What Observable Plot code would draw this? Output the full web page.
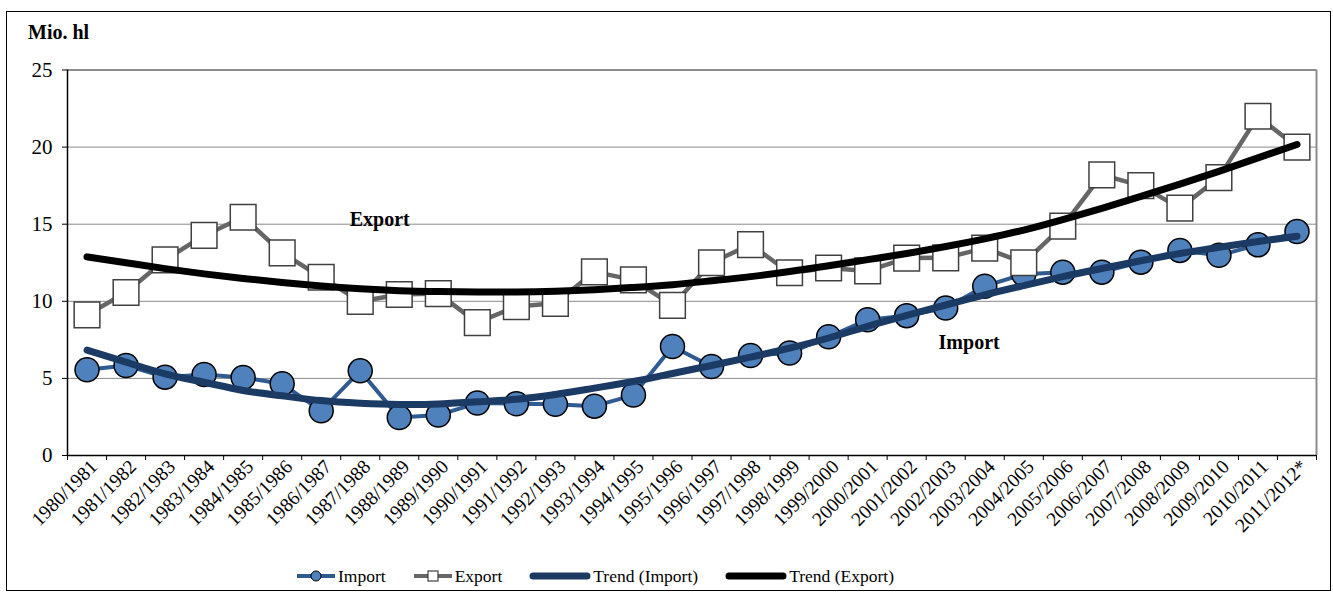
<!DOCTYPE html>
<html><head><meta charset="utf-8">
<script src="https://cdn.jsdelivr.net/npm/d3@7"></script>
<script src="https://cdn.jsdelivr.net/npm/@observablehq/plot@0.6"></script>
<style>
body{margin:0;background:#fff;font-family:"Liberation Serif","Times New Roman","DejaVu Serif",serif}
#wrap{position:relative;width:1333px;height:594px;overflow:hidden;background:#fff}
#frame{position:absolute;left:6px;top:11px;width:1325px;height:580px;border:1.5px solid #000;box-sizing:border-box;pointer-events:none}
#chart{position:absolute;left:0;top:0}
#unit{position:absolute;left:28px;top:21px;font-weight:bold;font-size:20px;font-family:"Liberation Serif","Times New Roman","DejaVu Serif",serif;color:#000}
#legend{position:absolute;left:296px;top:565px;height:22px;display:flex;align-items:center;gap:27px;font-size:17.5px;font-family:"Liberation Serif","Times New Roman","DejaVu Serif",serif;color:#000}
.item{display:flex;align-items:center;gap:2px;white-space:nowrap}
.item svg{display:block}
svg text{font-family:"Liberation Serif","Times New Roman","DejaVu Serif",serif}
</style></head><body>
<div id="wrap"><div id="chart"></div><div id="unit">Mio. hl</div><div id="legend"></div><div id="frame"></div></div>
<script>
const categories = ["1980/1981","1981/1982","1982/1983","1983/1984","1984/1985","1985/1986","1986/1987","1987/1988","1988/1989","1989/1990","1990/1991","1991/1992","1992/1993","1993/1994","1994/1995","1995/1996","1996/1997","1997/1998","1998/1999","1999/2000","2000/2001","2001/2002","2002/2003","2003/2004","2004/2005","2005/2006","2006/2007","2007/2008","2008/2009","2009/2010","2010/2011","2011/2012*"];
const importValues = [5.56,5.84,5.08,5.25,5.06,4.65,2.90,5.49,2.46,2.62,3.40,3.36,3.32,3.20,3.92,7.07,5.77,6.48,6.65,7.70,8.80,9.07,9.56,10.98,11.76,11.89,11.89,12.54,13.30,12.98,13.66,14.52];
const exportValues = [9.12,10.57,12.69,14.27,15.45,13.14,11.56,9.99,10.44,10.50,8.62,9.66,9.87,11.91,11.39,9.73,12.50,13.68,11.85,12.16,11.97,12.80,12.82,13.45,12.50,14.87,18.20,17.50,16.04,18.02,22.00,20.00];
const trendImport = [6.83,6.05,5.30,4.75,4.22,3.87,3.56,3.39,3.31,3.34,3.48,3.65,3.96,4.37,4.80,5.32,5.84,6.38,6.96,7.62,8.38,9.08,9.76,10.42,11.02,11.60,12.13,12.63,13.10,13.50,13.88,14.22];
const trendExport = [12.88,12.50,12.12,11.78,11.48,11.22,10.99,10.81,10.69,10.63,10.60,10.60,10.65,10.75,10.90,11.08,11.33,11.60,11.93,12.30,12.70,13.10,13.55,14.05,14.62,15.30,16.03,16.80,17.60,18.43,19.30,20.17];
const yTicks = [0,5,10,15,20,25];
const annotations = [{text:"Export", x:7.5, y:15.3},{text:"Import", x:22.6, y:7.3}];
const legendItems = ["Import","Export","Trend (Import)","Trend (Export)"];

const idx = categories.map((_, i) => i);
const rows = idx.map(i => ({i, imp: importValues[i], exp: exportValues[i], tImp: trendImport[i], tExp: trendExport[i]}));
const boundaries = d3.range(categories.length + 1).map(i => i - 0.5);
const serif = '"Liberation Serif", "Times New Roman", "DejaVu Serif", serif';

const plot = Plot.plot({
  width: 1333, height: 560,
  marginLeft: 67, marginRight: 17, marginTop: 69.5, marginBottom: 105,
  style: {fontFamily: serif, background: "transparent", color: "#000"},
  x: {type: "linear", domain: [-0.5, categories.length - 0.5]},
  y: {domain: [0, 25]},
  marks: [
    Plot.gridY(yTicks, {stroke: "#8a8a8a", strokeOpacity: 1, strokeWidth: 1}),
    Plot.ruleY([25], {stroke: "#8c8c8c", strokeWidth: 2}),
    Plot.ruleX([categories.length - 0.5], {stroke: "#8c8c8c", strokeWidth: 2}),
    Plot.axisY({ticks: yTicks, tickSize: 5, tickPadding: 10, fontSize: 21, fontFamily: serif, label: null}),
    Plot.axisX({ticks: boundaries, tickSize: 5, tickFormat: () => "", label: null}),
    Plot.axisX({ticks: idx, tickSize: 0, tickPadding: 8, dx: 7, tickFormat: i => categories[i], tickRotate: -45, fontSize: 19.5, fontFamily: serif, label: null}),
    Plot.ruleX([-0.5], {stroke: "#000", strokeWidth: 1.5}),
    Plot.ruleY([0], {stroke: "#000", strokeWidth: 1.5}),
    Plot.line(rows, {x: "i", y: "imp", stroke: "#2d5b92", strokeWidth: 4}),
    Plot.dot(rows, {x: "i", y: "imp", r: 12, fill: "#4f81bd", stroke: "#000", strokeWidth: 1.5}),
    Plot.line(rows, {x: "i", y: "exp", stroke: "#666", strokeWidth: 4.5}),
    Plot.dot(rows, {x: "i", y: "exp", symbol: "square", r: 14.5, fill: "#fff", stroke: "#404040", strokeWidth: 1.5}),
    Plot.line(rows, {x: "i", y: "tImp", stroke: "#1b3a64", strokeWidth: 7, curve: "natural", strokeLinecap: "round"}),
    Plot.line(rows, {x: "i", y: "tExp", stroke: "#000", strokeWidth: 7, curve: "natural", strokeLinecap: "round"}),
    Plot.text(annotations, {x: "x", y: "y", text: "text", fontWeight: "bold", fontSize: 20, fontFamily: serif, fill: "#000"})
  ]
});
document.getElementById("chart").appendChild(plot);

const icons = [
  '<svg width="40" height="14"><line x1="1" y1="7" x2="39" y2="7" stroke="#2d5b92" stroke-width="4"/><circle cx="20" cy="7" r="5" fill="#4f81bd" stroke="#000" stroke-width="1"/></svg>',
  '<svg width="40" height="14"><line x1="1" y1="7" x2="39" y2="7" stroke="#666" stroke-width="4"/><rect x="15" y="2" width="10" height="10" fill="#fff" stroke="#404040" stroke-width="1.2"/></svg>',
  '<svg width="62" height="14"><line x1="4" y1="7" x2="58" y2="7" stroke="#1b3a64" stroke-width="7" stroke-linecap="round"/></svg>',
  '<svg width="62" height="14"><line x1="4" y1="7" x2="58" y2="7" stroke="#000" stroke-width="7" stroke-linecap="round"/></svg>'
];
const legend = document.getElementById("legend");
legendItems.forEach((t, k) => {
  const d = document.createElement("div");
  d.className = "item";
  d.innerHTML = icons[k] + "<span>" + t + "</span>";
  legend.appendChild(d);
});
</script>
</body></html>
